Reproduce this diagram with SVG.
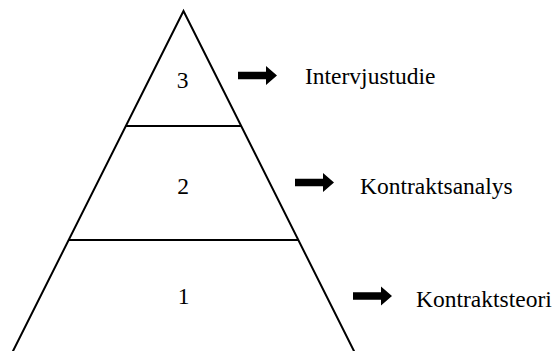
<svg xmlns="http://www.w3.org/2000/svg" width="555" height="351" viewBox="0 0 555 351">
  <defs>
    <style>
      .ln { fill: none; stroke: #000; stroke-width: 2; }
      .tx { font-family: "Liberation Serif", "Times New Roman", serif; font-size: 23.5px; fill: #000; }
      .num { text-anchor: middle; }
      .arr { fill: #000; }
    </style>
    <path id="arrow" class="arr" d="M0,-3.8 H28 V-9.5 L39,0 L28,9.5 V3.8 H0 Z"/>
  </defs>
  <rect width="555" height="351" fill="#fff"/>
  <g id="pyramid">
    <polyline class="ln" points="8,361 183.5,11 359,361"/>
  </g>
  <g id="level3">
    <text class="tx num" x="182.5" y="88">3</text>
  </g>
  <g id="level2">
    <line class="ln" x1="126" y1="126" x2="241" y2="126"/>
    <text class="tx num" x="183" y="194">2</text>
  </g>
  <g id="level1">
    <line class="ln" x1="69" y1="240" x2="298" y2="240"/>
    <text class="tx num" x="183.5" y="304">1</text>
  </g>
  <g id="connectors">
    <use href="#arrow" x="238" y="75.5"/>
    <use href="#arrow" x="295" y="182.5"/>
    <use href="#arrow" x="353" y="296"/>
  </g>
  <g id="label-intervjustudie">
    <text class="tx" x="305" y="84">Intervjustudie</text>
  </g>
  <g id="label-kontraktsanalys">
    <text class="tx" x="360" y="194">Kontraktsanalys</text>
  </g>
  <g id="label-kontraktsteori">
    <text class="tx" x="416" y="307">Kontraktsteori</text>
  </g>
</svg>
